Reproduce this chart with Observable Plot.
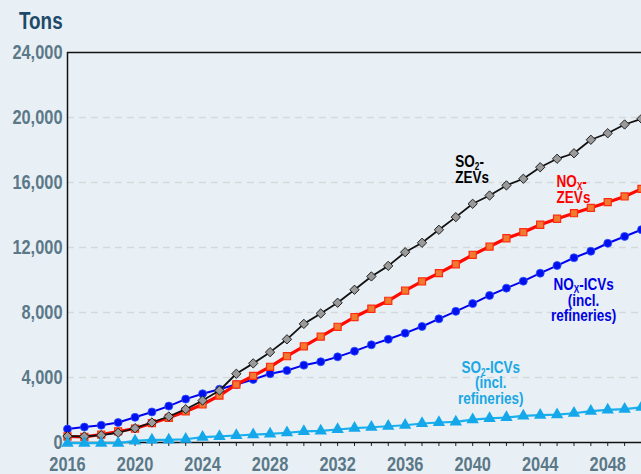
<!DOCTYPE html>
<html><head><meta charset="utf-8">
<script src="https://cdn.jsdelivr.net/npm/d3@7"></script>
<script src="https://cdn.jsdelivr.net/npm/@observablehq/plot@0.6"></script>
<style>
html,body{margin:0;padding:0;background:#e9f0f5;}
#chart{width:641px;height:474px;overflow:hidden;}
</style></head><body><div id="chart"></div>
<script>
const years = [2016,2017,2018,2019,2020,2021,2022,2023,2024,2025,2026,2027,2028,2029,2030,2031,2032,2033,2034,2035,2036,2037,2038,2039,2040,2041,2042,2043,2044,2045,2046,2047,2048,2049,2050];
const so2Zevs = [390,370,450,600,880,1230,1600,2050,2580,3200,4230,4870,5560,6350,7300,7940,8600,9400,10220,10870,11710,12290,13090,13870,14690,15200,15820,16230,16940,17460,17800,18630,19030,19570,19920];
const noxZevs = [370,350,490,680,860,1190,1520,1910,2340,2890,3570,4100,4660,5310,5920,6520,7120,7720,8230,8720,9350,9910,10420,10970,11550,12060,12570,12940,13400,13770,14110,14440,14790,15140,15610];
const noxIcvs = [830,950,1060,1230,1550,1880,2240,2670,3000,3280,3570,3880,4230,4430,4760,4970,5270,5620,6010,6350,6730,7140,7610,8070,8550,9050,9500,9930,10420,10890,11370,11770,12260,12680,13100];
const so2Icvs = [-40,-40,-40,-40,100,160,160,200,330,380,430,480,530,600,680,720,800,880,940,1000,1060,1170,1230,1270,1410,1480,1540,1640,1680,1720,1800,1930,2010,2050,2170];
const yTicks = [0,4000,8000,12000,16000,20000,24000];
const xLabelYears = [2016,2020,2024,2028,2032,2036,2040,2044,2048];
const yTitle = "Tons";
const seriesLabels = [
  {lines:[["SO","2","-"],["ZEVs"]], x:2039.0, y:16920, anchor:"start", color:"#000000"},
  {lines:[["NO","X","-"],["ZEVs"]], x:2045.0, y:15690, anchor:"start", color:"#ff0000"},
  {lines:[["NO","X","-ICVs"],["(incl."],["refineries)"]], x:2046.6, y:9350, anchor:"middle", color:"#0000e6"},
  {lines:[["SO","2","-ICVs"],["(incl."],["refineries)"]], x:2041.1, y:4250, anchor:"middle", color:"#1aa7e4"}
];

const FONT = '"Liberation Sans",Arial,sans-serif';
const SQ = 0.82; // horizontal condensing of the bold sans
const rows = (vals) => years.map((yr,i)=>({year:yr, value:vals[i]}));
const dSo2Z = rows(so2Zevs), dNoxZ = rows(noxZevs), dNoxI = rows(noxIcvs), dSo2I = rows(so2Icvs);

const plot = Plot.plot({
  width:641, height:474,
  marginLeft:67, marginRight:0, marginTop:52, marginBottom:32,
  style:{background:"#e9f0f5", fontFamily:FONT},
  x:{domain:[2016,2050]},
  y:{domain:[0,24000]},
  marks:[
    Plot.ruleY(yTicks.filter(d=>d>0 && d<24000), {stroke:"#d5d9dc", strokeWidth:1.5, strokeDasharray:"7,5"}),
    Plot.axisY({ticks:yTicks, tickSize:0, tickPadding:5, tickFormat:d3.format(","), fontSize:20, fontWeight:"bold", color:"#5b7888", label:null}),
    Plot.axisX({ticks:years, tickSize:4, tickFormat:()=>"", label:null, color:"#222"}),
    Plot.axisX({ticks:xLabelYears, tickSize:0, tickPadding:14, tickFormat:d=>String(d), fontSize:20, fontWeight:"bold", color:"#5b7888", label:null}),
    Plot.ruleY([24000], {stroke:"#111", strokeWidth:1.5}),
    Plot.ruleX([2016], {stroke:"#111", strokeWidth:1.5}),
    Plot.ruleY([0], {stroke:"#111", strokeWidth:1.5}),
    Plot.line(dNoxI, {x:"year", y:"value", stroke:"#0000ee", strokeWidth:2}),
    Plot.dot(dNoxI, {x:"year", y:"value", symbol:"circle", r:4, fill:"#0010ee", stroke:"#3050ff", strokeWidth:0.8}),
    Plot.line(dNoxZ, {x:"year", y:"value", stroke:"#ff0a00", strokeWidth:3.2}),
    Plot.dot(dNoxZ, {x:"year", y:"value", symbol:"square", r:4, fill:"#f07a30", stroke:"#ff2a10", strokeWidth:1.2}),
    Plot.line(dSo2Z, {x:"year", y:"value", stroke:"#111", strokeWidth:1.8}),
    Plot.dot(dSo2Z, {x:"year", y:"value", symbol:"diamond2", r:4.2, fill:"#9a9a9a", stroke:"#222", strokeWidth:1}),
    Plot.line(dSo2I, {x:"year", y:"value", stroke:"#1ab0ee", strokeWidth:2.2}),
    Plot.dot(dSo2I, {x:"year", y:"value", symbol:"triangle", r:4.6, fill:"#14a8ea", stroke:"none"})
  ]
});

const svg = d3.select(plot);
svg.selectAll("text").each(function(){
  const el = d3.select(this);
  const tr = el.attr("transform");
  if (tr) el.attr("transform", tr + ` scale(${SQ},1)`);
  else {
    const x = +(el.attr("x")||0), y = +(el.attr("y")||0);
    el.attr("x", null).attr("y", null).attr("transform", `translate(${x},${y}) scale(${SQ},1)`);
  }
});

svg.append("text").attr("transform", `translate(19,29) scale(${SQ},1)`).attr("text-anchor", "start")
  .attr("font-family", FONT).attr("font-size", 23).attr("font-weight", "bold").attr("fill", "#1d4a68").text(yTitle);

const sx = plot.scale("x"), sy = plot.scale("y");
for (const lab of seriesLabels) {
  const t = svg.append("text").attr("font-family", FONT).attr("font-size", 16.5).attr("font-weight", "bold")
    .attr("fill", lab.color).attr("text-anchor", lab.anchor)
    .attr("transform", `translate(${sx.apply(lab.x)},${sy.apply(lab.y)}) scale(${SQ},1)`);
  lab.lines.forEach((ln, i) => {
    const line = t.append("tspan").attr("x", 0).attr("y", i*15.5);
    line.append("tspan").text(ln[0]);
    if (ln.length > 1) {
      line.append("tspan").attr("font-size", 10).attr("dy", 3).text(ln[1]);
      line.append("tspan").attr("font-size", 16.5).attr("dy", -3).text(ln[2]);
    }
  });
}
document.getElementById("chart").appendChild(plot);
</script></body></html>
